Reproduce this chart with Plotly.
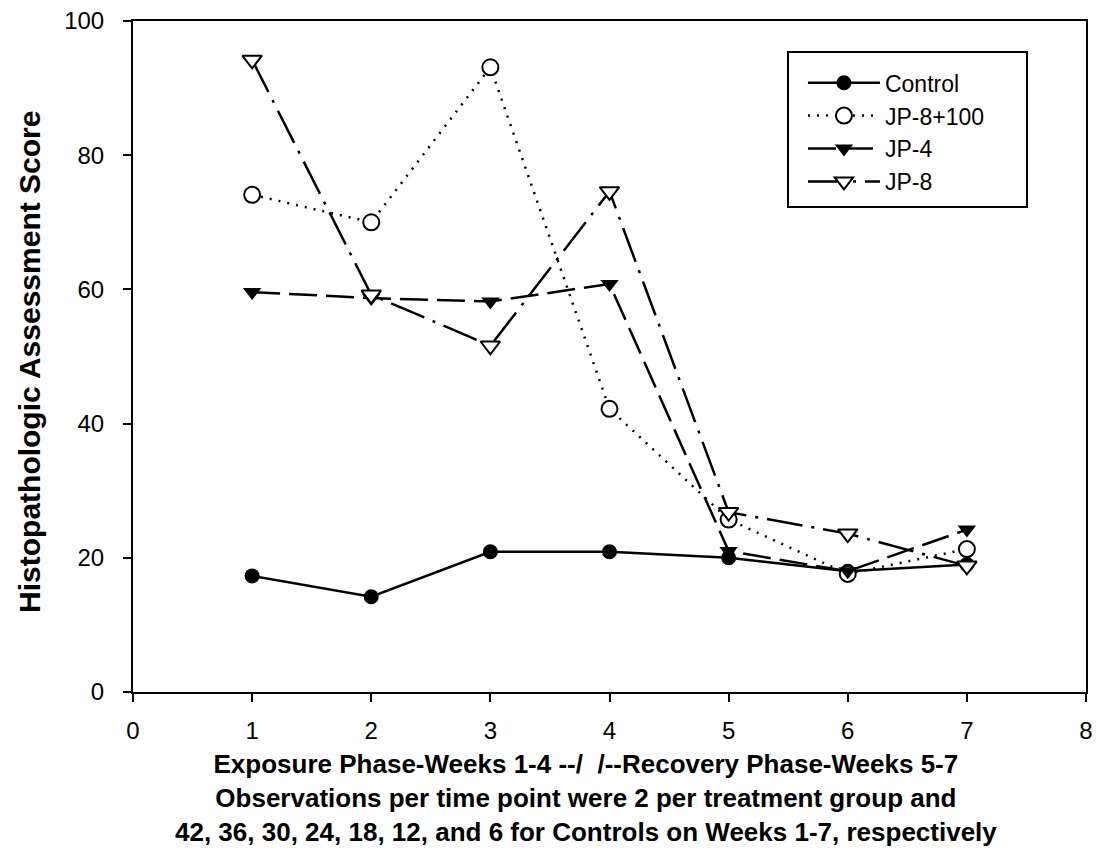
import plotly.graph_objects as go

weeks = [1, 2, 3, 4, 5, 6, 7]
control = [17.3, 14.2, 20.9, 20.9, 20.0, 18.0, 19.0]
jp8_100 = [74.1, 70.0, 93.1, 42.2, 25.7, 17.6, 21.3]
jp4 = [59.6, 58.7, 58.2, 60.8, 21.0, 18.0, 24.2]
jp8 = [94.2, 59.2, 51.6, 74.6, 26.8, 23.6, 18.8]

x_ticks = [0, 1, 2, 3, 4, 5, 6, 7, 8]
y_ticks = [0, 20, 40, 60, 80, 100]

y_title = "Histopathologic Assessment Score"
title_lines = [
    "Exposure Phase-Weeks 1-4 --/  /--Recovery Phase-Weeks 5-7",
    "Observations per time point were 2 per treatment group and",
    "42, 36, 30, 24, 18, 12, and 6 for Controls on Weeks 1-7, respectively",
]

fig = go.Figure()
fig.add_trace(go.Scatter(x=weeks, y=control, name="Control", mode="lines+markers",
                         line=dict(color="black", width=2.5, dash="solid"),
                         marker=dict(symbol="circle", size=15, color="black")))
fig.add_trace(go.Scatter(x=weeks, y=jp8_100, name="JP-8+100", mode="lines+markers",
                         line=dict(color="black", width=2.5, dash="2px,7px"),
                         marker=dict(symbol="circle", size=16, color="white",
                                     line=dict(width=2, color="black"))))
fig.add_trace(go.Scatter(x=weeks, y=jp4, name="JP-4", mode="lines+markers",
                         line=dict(color="black", width=2.5, dash="28px,9px"),
                         marker=dict(symbol="triangle-down", size=16, color="black")))
fig.add_trace(go.Scatter(x=weeks, y=jp8, name="JP-8", mode="lines+markers",
                         line=dict(color="black", width=2.5, dash="36px,9px,3px,9px"),
                         marker=dict(symbol="triangle-down", size=17, color="white",
                                     line=dict(width=2, color="black"))))

fig.update_layout(
    width=1112, height=851,
    margin=dict(l=125, r=34, t=13, b=167),
    paper_bgcolor="white", plot_bgcolor="white",
    font=dict(family="Liberation Sans, Arial, sans-serif", color="black", size=20),
    showlegend=True,
    legend=dict(x=0.703, y=0.94, xanchor="left", yanchor="top",
                borderwidth=0, bgcolor="rgba(0,0,0,0)",
                font=dict(size=23), tracegroupgap=0, itemwidth=72),
    xaxis=dict(range=[0, 8], tickvals=x_ticks, ticktext=[str(v) for v in x_ticks],
               showgrid=False, zeroline=False, showline=True, linecolor="black",
               linewidth=2, mirror=True, ticks="outside", ticklen=8, tickwidth=1.5,
               tickcolor="black", tickfont=dict(size=24), automargin=False,
               ticklabelstandoff=8, ticklabeloverflow="allow"),
    yaxis=dict(range=[0, 100], tickvals=y_ticks, ticktext=[str(v) for v in y_ticks],
               showgrid=False, zeroline=False, showline=True, linecolor="black",
               linewidth=2, mirror=True, ticks="outside", ticklen=8, tickwidth=1.5,
               tickcolor="black", tickfont=dict(size=24), automargin=False,
               ticklabelstandoff=14, ticklabeloverflow="allow"),
    shapes=[dict(type="rect", xref="paper", yref="paper",
                 x0=0.6873, x1=0.9381, y0=0.7228, y1=0.9538,
                 line=dict(color="black", width=2), fillcolor="rgba(0,0,0,0)")],
)

fig.add_annotation(
    x=-0.108, y=0.492, xref="paper", yref="paper", xanchor="center", yanchor="middle",
    text="<b>" + y_title + "</b>", textangle=-90, showarrow=False,
    font=dict(family="Liberation Sans, Arial, sans-serif", size=30, color="black"),
)

fig.add_annotation(
    x=0.475, y=-0.158, xref="paper", yref="paper", xanchor="center", yanchor="middle",
    text="<b>" + "<br>".join(title_lines) + "</b>", showarrow=False, align="center",
    font=dict(family="Liberation Sans, Arial, sans-serif", size=26, color="black"),
)

fig.write_html("out.html")
